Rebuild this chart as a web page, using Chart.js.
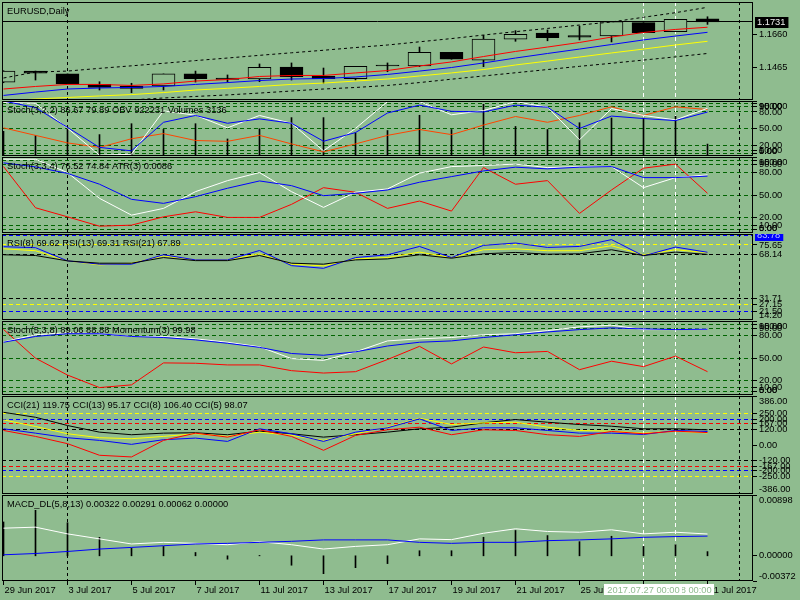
<!DOCTYPE html>
<html>
<head>
<meta charset="utf-8">
<script src="https://cdn.jsdelivr.net/npm/chart.js@4.4.1/dist/chart.umd.min.js"></script>
<style>
  html, body { margin: 0; padding: 0; background: #8fbc8f; }
  #wrap { position: relative; width: 800px; height: 600px; overflow: hidden; background: #8fbc8f; }
  canvas { position: absolute; left: 0; }
</style>
</head>
<body>
<div id="wrap">
  <canvas id="p1" width="800" height="98" style="top:2px"></canvas>
  <canvas id="p2" width="800" height="55" style="top:101px"></canvas>
  <canvas id="p3" width="800" height="76" style="top:157px"></canvas>
  <canvas id="p4" width="800" height="86" style="top:234px"></canvas>
  <canvas id="p5" width="800" height="74" style="top:321px"></canvas>
  <canvas id="p6" width="800" height="98" style="top:396px"></canvas>
  <canvas id="p7" width="800" height="105" style="top:495px"></canvas>
</div>
<script>
// ---- data (EURUSD daily, 29 Jun - 31 Jul 2017) ----
const dates = ["29 Jun 2017", "30 Jun 2017", "3 Jul 2017", "4 Jul 2017", "5 Jul 2017", "6 Jul 2017",
  "7 Jul 2017", "10 Jul 2017", "11 Jul 2017", "12 Jul 2017", "13 Jul 2017", "14 Jul 2017",
  "17 Jul 2017", "18 Jul 2017", "19 Jul 2017", "20 Jul 2017", "21 Jul 2017", "24 Jul 2017",
  "25 Jul 2017", "26 Jul 2017", "27 Jul 2017", "28 Jul 2017", "31 Jul 2017"];

const opens  = [1.1376, 1.1441, 1.1424, 1.1363, 1.1353, 1.1353, 1.1424, 1.1400, 1.1394, 1.1465, 1.1412, 1.1396,
  1.1477, 1.1471, 1.1552, 1.1506, 1.1629, 1.1666, 1.1650, 1.1648, 1.1727, 1.1674, 1.1749];
const highs  = [1.1443, 1.1441, 1.1424, 1.1378, 1.1369, 1.1424, 1.1441, 1.1418, 1.1483, 1.1489, 1.1459, 1.1469,
  1.1489, 1.1583, 1.1552, 1.1652, 1.1680, 1.1684, 1.1707, 1.1733, 1.1727, 1.1747, 1.1762];
const lows   = [1.1372, 1.1388, 1.1365, 1.1329, 1.1313, 1.1329, 1.1376, 1.1376, 1.1378, 1.1388, 1.1369, 1.1388,
  1.1437, 1.1467, 1.1511, 1.1467, 1.1617, 1.1620, 1.1625, 1.1613, 1.1668, 1.1674, 1.1717];
const closes = [1.1441, 1.1428, 1.1365, 1.1345, 1.1339, 1.1424, 1.1396, 1.1392, 1.1463, 1.1408, 1.1396, 1.1469,
  1.1471, 1.1552, 1.1511, 1.1630, 1.1658, 1.1638, 1.1641, 1.1733, 1.1668, 1.1747, 1.1731];

const maRed    = [1.1335, 1.1350, 1.1362, 1.1362, 1.1356, 1.1365, 1.1382, 1.1391, 1.1409, 1.1415, 1.1415, 1.1430,
  1.1444, 1.1471, 1.1495, 1.1527, 1.1557, 1.1583, 1.1610, 1.1642, 1.1669, 1.1687, 1.1700];
const maBlue   = [1.1297, 1.1317, 1.1335, 1.1341, 1.1344, 1.1350, 1.1362, 1.1373, 1.1385, 1.1394, 1.1397, 1.1406,
  1.1421, 1.1441, 1.1462, 1.1489, 1.1518, 1.1545, 1.1571, 1.1598, 1.1625, 1.1648, 1.1670];
const maYellow = [1.1264, 1.1276, 1.1285, 1.1294, 1.1302, 1.1314, 1.1329, 1.1339, 1.1350, 1.1362, 1.1370, 1.1382,
  1.1394, 1.1412, 1.1430, 1.1450, 1.1477, 1.1500, 1.1524, 1.1548, 1.1571, 1.1595, 1.1617];
const envUpper = [1.1400, 1.1435, 1.1441, 1.1457, 1.1472, 1.1487, 1.1503, 1.1518, 1.1534, 1.1549, 1.1564, 1.1580,
  1.1595, 1.1614, 1.1633, 1.1654, 1.1674, 1.1693, 1.1713, 1.1731, 1.1759, 1.1786, 1.1818];
const envLower = [1.1240, 1.1250, 1.1258, 1.1264, 1.1270, 1.1282, 1.1291, 1.1300, 1.1311, 1.1323, 1.1335, 1.1344,
  1.1356, 1.1373, 1.1393, 1.1412, 1.1431, 1.1450, 1.1469, 1.1487, 1.1506, 1.1525, 1.1545];

// Stoch(3,2,2) + OBV + Volumes
const stochAMain   = [97.5, 95.7, 50.6, 1.3, 3.2, 82.0, 74.1, 51.2, 73.7, 59.5, 9.4, 50.1,
  98.9, 98.9, 75.0, 82.6, 98.9, 88.7, 29.5, 86.3, 73.7, 65.7, 86.67];
const stochASignal = [100, 88.0, 52.0, 15.6, 9.4, 61.3, 73.7, 59.5, 67.5, 59.5, 26.8, 42.6,
  78.2, 92.5, 81.2, 80.1, 92.5, 88.7, 50.1, 72.6, 68.1, 64.4, 79.89];
const obv = [901700, 893230, 884760, 879660, 889400, 895200, 887430, 886500, 893230, 883600, 874670, 883600,
  893230, 899840, 894040, 904830, 914460, 907960, 915620, 925360, 915620, 925360, 922231];
const volumes = [6500, 5360, 7420, 5630, 8500, 7000, 8500, 4480, 7160, 10100, 10100, 6080,
  6700, 10720, 6970, 13590, 7770, 6970, 8760, 10000, 10000, 10450, 3136];

// Stoch(3,3,4) + ATR(3)
const stochBMain   = [97.2, 97.0, 79.5, 45.6, 23.5, 32.4, 54.4, 68.9, 79.5, 54.4, 33.7, 53.6,
  58.0, 78.7, 87.4, 88.8, 90.6, 86.1, 87.4, 87.4, 59.7, 72.9, 76.52];
const stochBSignal = [92.3, 87.0, 78.4, 64.2, 44.3, 39.0, 47.8, 58.9, 68.5, 62.3, 49.1, 52.2,
  56.6, 66.8, 74.2, 81.7, 86.6, 84.4, 86.6, 87.4, 72.9, 72.9, 74.84];
const atr = [0.01126, 0.00716, 0.00626, 0.00533, 0.00543, 0.00626, 0.00676, 0.00620, 0.00620, 0.00750, 0.00916, 0.00870,
  0.00710, 0.00783, 0.00683, 0.01116, 0.00950, 0.00986, 0.00660, 0.00893, 0.01110, 0.01150, 0.0086];

// RSI(8), RSI(13), RSI(21)
const rsi8  = [74.2, 73.4, 62.6, 59.9, 59.9, 67.6, 63.4, 63.4, 71.1, 58.7, 56.5, 65.3,
  67.6, 74.4, 65.3, 75.3, 77.2, 73.6, 74.4, 80.0, 66.7, 73.9, 69.62];
const rsi13 = [72.5, 70.9, 62.6, 59.3, 60.7, 66.7, 63.4, 63.4, 68.4, 59.9, 58.5, 64.2,
  65.3, 69.8, 65.3, 71.7, 72.5, 70.9, 70.9, 75.0, 67.6, 71.7, 69.31];
const rsi21 = [67.6, 67.0, 62.6, 60.7, 60.7, 65.3, 62.8, 62.8, 67.0, 60.7, 59.9, 63.4,
  64.2, 67.6, 64.8, 68.4, 69.5, 68.1, 68.4, 71.7, 67.0, 69.8, 67.89];

// Stoch(5,3,8) + Momentum(3)
const stochCMain   = [71.7, 81.4, 84.2, 82.8, 79.1, 79.1, 75.9, 71.3, 65.2, 49.2, 46.8, 58.3,
  73.1, 75.9, 77.7, 81.4, 82.8, 87.0, 92.1, 94.3, 88.4, 88.4, 89.06];
const stochCSignal = [71.3, 79.1, 82.8, 82.8, 79.1, 77.7, 74.5, 69.9, 64.4, 56.1, 53.7, 58.3,
  66.2, 71.3, 73.1, 77.7, 81.4, 85.2, 88.4, 90.7, 89.3, 88.4, 88.88];
const momentum = [102.48, 100.78, 99.78, 99.04, 99.20, 100.50, 100.48, 100.38, 100.38, 100.04, 99.90, 99.98,
  100.70, 101.48, 100.44, 101.44, 101.10, 101.18, 100.10, 100.60, 100.28, 100.90, 99.98];

// CCI(21), CCI(13), CCI(8), CCI(5)
const cci21 = [257.4, 218.4, 153.5, 101.2, 80.9, 93.4, 96.5, 80.9, 109.0, 88.7, 62.1, 80.9,
  101.2, 127.7, 140.2, 174.6, 200.4, 179.3, 161.3, 148.0, 127.7, 127.7, 119.75];
const cci13 = [198.0, 145.7, 88.7, 57.4, 49.6, 67.6, 88.7, 67.6, 101.2, 75.4, 36.3, 88.7,
  140.2, 210.5, 161.3, 174.6, 179.3, 140.2, 114.5, 109.0, 93.4, 109.0, 95.17];
const cci8  = [127.7, 93.4, 57.4, 36.3, 5.1, 41.8, 54.3, 28.5, 127.7, 88.7, 28.5, 101.2,
  135.5, 205.9, 114.5, 135.5, 135.5, 114.5, 93.4, 93.4, 83.2, 114.5, 106.40];
const cci5  = [114.5, 67.6, 10.5, -80.9, -94.1, 36.3, 93.4, 62.1, 119.9, 67.6, -41.8, 75.4,
  119.9, 140.2, 80.9, 119.9, 114.5, 80.9, 67.6, 106.6, 88.7, 109.0, 98.07];

// MACD_DL(5,8,13)
const macdMain   = [0.00408, 0.00423, 0.00324, 0.00250, 0.00175, 0.00199, 0.00184, 0.00164, 0.00209, 0.00164, 0.00100, 0.00139,
  0.00164, 0.00250, 0.00239, 0.00333, 0.00399, 0.00359, 0.00348, 0.00384, 0.00324, 0.00348, 0.00322];
const macdSignal = [0.00015, 0.00034, 0.00064, 0.00100, 0.00124, 0.00149, 0.00175, 0.00184, 0.00199, 0.00214, 0.00235, 0.00235,
  0.00235, 0.00199, 0.00184, 0.00199, 0.00199, 0.00224, 0.00235, 0.00250, 0.00273, 0.00284, 0.00291];
const macdHist   = [0.00500, 0.00672, 0.00489, 0.00273, 0.00115, 0.00139, 0.00049, -0.00050, 0.00005, -0.00139, -0.00264, -0.00175,
  -0.00115, 0.00075, 0.00075, 0.00274, 0.00374, 0.00299, 0.00209, 0.00289, 0.00139, 0.00164, 0.00062];

// tick labels and levels
const priceTicks = [1.1660, 1.1465];
const stochTicks = [100, 95, 90, 80, 50, 20, 10, 5, 0];
const stochLevels = [95, 90, 80, 50, 20, 10, 5];
const rsiLevelsBlue = [83.78, 21.50];
const rsiLevelsYellow = [75.65, 27.15];
const rsiLevelsBlack = [68.14, 31.71];
const rsiTicks = [75.65, 68.14, 31.71, 27.15, 21.50, 14.20];
const cciLevels = [250, 200, 167, 120];
const cciTicks = [386, 250, 200, 167, 120, 0, -120, -167, -200, -250, -386];
const macdTicks = [0.00898, 0.00000, -0.00372];
const crosshairDates = [{ i: 21, t: "2017.07.28 00:00" }, { i: 20, t: "2017.07.27 00:00" }];

// ---- drawing ----
const BG = "#8fbc8f";
const LEVEL_GREEN = "#006400";
const FONT = "9.3px 'Liberation Sans', Arial, sans-serif";
const X_MIN = (2 - 3.5) / 32, X_MAX = (753 - 3.5) / 32;
const MARKERS = [
  { i: 2, c: "#000000", dash: [3, 3] },
  { i: 20, c: "#ffffff", dash: [4, 3] },
  { i: 21, c: "#ffffff", dash: [4, 3] },
  { i: 23, c: "#000000", dash: [3, 3] }
];

Chart.defaults.font.family = "'Liberation Sans', Arial, sans-serif";

const pts = arr => arr.map((v, i) => ({ x: i, y: v }));

function line(arr, color, axis, dash) {
  return {
    type: "line", data: pts(arr), borderColor: color, borderWidth: 1, borderDash: dash || [],
    pointRadius: 0, tension: 0, clip: 0, yAxisID: axis || "y", order: 1
  };
}

function sticks(arr, axis) {
  return {
    type: "bar", data: pts(arr), backgroundColor: "#000000", borderWidth: 0,
    barThickness: 1, grouped: false, clip: 0, yAxisID: axis || "y", order: 3
  };
}

function hline(ctx, a, py) {
  ctx.beginPath(); ctx.moveTo(a.left, py); ctx.lineTo(a.right, py); ctx.stroke();
}

const panePlugin = {
  id: "pane",
  beforeDatasetsDraw(chart, args, o) {
    const ctx = chart.ctx, a = chart.chartArea, ys = chart.scales.y, xs = chart.scales.x;
    ctx.save();
    ctx.lineWidth = 1;
    ctx.setLineDash([4, 3]);
    (o.levels || []).forEach(l => {
      ctx.strokeStyle = l.c;
      hline(ctx, a, Math.floor(ys.getPixelForValue(l.v)) + 0.5);
    });
    MARKERS.forEach(m => {
      const px = Math.floor(xs.getPixelForValue(m.i)) + 0.5;
      ctx.strokeStyle = m.c;
      ctx.setLineDash(m.dash);
      ctx.beginPath(); ctx.moveTo(px, a.top); ctx.lineTo(px, a.bottom); ctx.stroke();
    });
    if (o.priceLine != null) {
      ctx.setLineDash([]);
      ctx.strokeStyle = "#000000";
      hline(ctx, a, Math.floor(ys.getPixelForValue(o.priceLine)) + 0.5);
    }
    ctx.restore();
  },
  afterDatasetsDraw(chart, args, o) {
    const ctx = chart.ctx, a = chart.chartArea, ys = chart.scales.y, xs = chart.scales.x;
    ctx.save();
    ctx.setLineDash([]);
    ctx.lineWidth = 1;
    ctx.strokeStyle = "#000000";
    ctx.strokeRect(a.left + 0.5, a.top + 0.5, a.right - a.left - 1, a.bottom - a.top - 1);

    ctx.font = FONT;
    ctx.fillStyle = "#000000";
    ctx.textBaseline = "alphabetic";
    ctx.fillText(o.title, a.left + 5, a.top + 11.5);

    // right-hand scale labels
    ctx.textBaseline = "middle";
    (o.ticks || []).forEach(t => {
      const py = ys.getPixelForValue(t.v);
      if (py >= a.top && py <= a.bottom) {
        const ty = Math.floor(py) + 0.5;
        ctx.beginPath(); ctx.moveTo(a.right, ty); ctx.lineTo(a.right + 4, ty); ctx.stroke();
      }
      const cy = Math.min(Math.max(py, a.top + 5), a.bottom - 5);
      ctx.fillStyle = "#000000";
      ctx.fillText(t.t, a.right + 6, cy);
    });
    (o.boxes || []).forEach(b => {
      const py = Math.round(ys.getPixelForValue(b.v));
      const w = ctx.measureText(b.t).width + 5;
      ctx.fillStyle = b.bg;
      ctx.fillRect(a.right + 2, py - 5, w, 11);
      ctx.fillStyle = b.fg;
      ctx.fillText(b.t, a.right + 4, py + 0.5);
    });

    // time axis under the last pane
    if (o.dates) {
      ctx.fillStyle = "#000000";
      ctx.textBaseline = "alphabetic";
      for (let i = 0; i < dates.length; i += 2) {
        const px = Math.floor(xs.getPixelForValue(i)) + 0.5;
        ctx.beginPath(); ctx.moveTo(px, a.bottom); ctx.lineTo(px, a.bottom + 4); ctx.stroke();
        ctx.fillText(dates[i], px + 1, a.bottom + 12);
      }
      ctx.textAlign = "center";
      crosshairDates.forEach(c => {
        const px = xs.getPixelForValue(c.i);
        const w = ctx.measureText(c.t).width + 6;
        ctx.fillStyle = "#ffffff";
        ctx.fillRect(Math.round(px - w / 2), a.bottom + 3, Math.round(w), 11);
        ctx.fillStyle = BG;
        ctx.fillText(c.t, px, a.bottom + 12);
      });
    }
    ctx.restore();
  }
};

function makePane(id, datasets, yScales, pane, padBottom) {
  const scales = { x: { type: "linear", min: X_MIN, max: X_MAX, display: false, offset: false } };
  Object.keys(yScales).forEach(k => {
    scales[k] = { type: "linear", display: false, min: yScales[k][0], max: yScales[k][1] };
  });
  return new Chart(document.getElementById(id), {
    type: "line",
    data: { datasets: datasets },
    options: {
      responsive: false,
      animation: false,
      devicePixelRatio: 1,
      events: [],
      layout: { padding: { left: 2, right: 47, top: 0, bottom: padBottom || 0 } },
      plugins: { legend: { display: false }, tooltip: { enabled: false }, pane: pane },
      scales: scales
    },
    plugins: [panePlugin]
  });
}

const fmt = (arr, d) => arr.map(v => ({ v: v, t: v.toFixed(d) }));
const lv = (arr, c) => arr.map(v => ({ v: v, c: c }));
const mirror = (arr, c) => lv(arr, c).concat(lv(arr.map(v => -v), c));

// pane 1: price
makePane("p1", [
  line(maRed, "#ff0000"),
  line(maBlue, "#0000ff"),
  line(maYellow, "#ffff00"),
  line(envUpper, "#000000", "y", [3, 3]),
  line(envLower, "#000000", "y", [3, 3]),
  {
    type: "bar", data: opens.map((o, i) => ({ x: i, y: [o, closes[i]] })),
    backgroundColor: opens.map((o, i) => closes[i] >= o ? BG : "#000000"),
    borderColor: "#000000", borderWidth: 1, borderSkipped: false,
    barThickness: 23, grouped: false, clip: 0, order: 5
  },
  {
    type: "bar", data: lows.map((l, i) => ({ x: i, y: [l, highs[i]] })),
    backgroundColor: "#000000", borderWidth: 0, barThickness: 1, grouped: false, clip: 0, order: 6
  }
], { y: [1.12700, 1.18492] }, {
  title: "EURUSD,Daily",
  priceLine: closes[closes.length - 1],
  ticks: fmt(priceTicks, 4),
  boxes: [{ v: closes[closes.length - 1], t: closes[closes.length - 1].toFixed(4), bg: "#000000", fg: "#eeeeee" }]
});

// pane 2: Stoch(3,2,2), OBV, Volumes
makePane("p2", [
  line(stochASignal, "#0000ff"),
  line(stochAMain, "#ffffff"),
  line(obv, "#ff4500", "yo"),
  sticks(volumes, "yv")
], { y: [0, 100], yo: [870000, 931900], yv: [0, 14470] }, {
  title: "Stoch(3,2,2) 86.67 79.89 OBV 922231 Volumes 3136",
  levels: lv(stochLevels, LEVEL_GREEN),
  ticks: fmt(stochTicks, 2)
});

// pane 3: Stoch(3,3,4), ATR(3)
makePane("p3", [
  line(stochBSignal, "#0000ff"),
  line(stochBMain, "#ffffff"),
  line(atr, "#ff0000", "ya")
], { y: [0, 100], ya: [0.00465, 0.01221] }, {
  title: "Stoch(3,3,4) 76.52 74.84 ATR(3) 0.0086",
  levels: lv(stochLevels, LEVEL_GREEN),
  ticks: fmt(stochTicks, 2)
});

// pane 4: RSI
makePane("p4", [
  line(rsi21, "#000000"),
  line(rsi8, "#0000ff"),
  line(rsi13, "#ffff00")
], { y: [14.2, 84.6] }, {
  title: "RSI(8) 69.62 RSI(13) 69.31 RSI(21) 67.89",
  levels: lv(rsiLevelsBlue, "#0000ff").concat(lv(rsiLevelsYellow, "#ffff00"), lv(rsiLevelsBlack, "#000000")),
  ticks: fmt(rsiTicks, 2),
  boxes: [{ v: rsiLevelsBlue[0], t: rsiLevelsBlue[0].toFixed(2), bg: "#0000ff", fg: "#b8c4ff" }]
});

// pane 5: Stoch(5,3,8), Momentum(3)
makePane("p5", [
  line(stochCSignal, "#0000ff"),
  line(stochCMain, "#ffffff"),
  line(momentum, "#ff0000", "ym")
], { y: [0, 100], ym: [98.60, 102.98] }, {
  title: "Stoch(5,3,8) 89.06 88.88 Momentum(3) 99.98",
  levels: lv(stochLevels, LEVEL_GREEN),
  ticks: fmt(stochTicks, 2)
});

// pane 6: CCI
makePane("p6", [
  line(cci5, "#ff0000"),
  line(cci8, "#0000ff"),
  line(cci13, "#ffff00"),
  line(cci21, "#000000")
], { y: [-386, 386] }, {
  title: "CCI(21) 119.75 CCI(13) 95.17 CCI(8) 106.40 CCI(5) 98.07",
  levels: mirror([cciLevels[0]], "#ffff00").concat(mirror([cciLevels[1]], "#0000ff"),
    mirror([cciLevels[2]], "#ff0000"), mirror([cciLevels[3]], "#000000")),
  ticks: fmt(cciTicks, 2)
});

// pane 7: MACD
makePane("p7", [
  line(macdSignal, "#0000ff"),
  line(macdMain, "#ffffff"),
  sticks(macdHist)
], { y: [-0.00372, 0.00898] }, {
  title: "MACD_DL(5,8,13) 0.00322 0.00291 0.00062 0.00000",
  ticks: fmt(macdTicks, 5),
  dates: true
}, 19);
</script>
</body>
</html>
